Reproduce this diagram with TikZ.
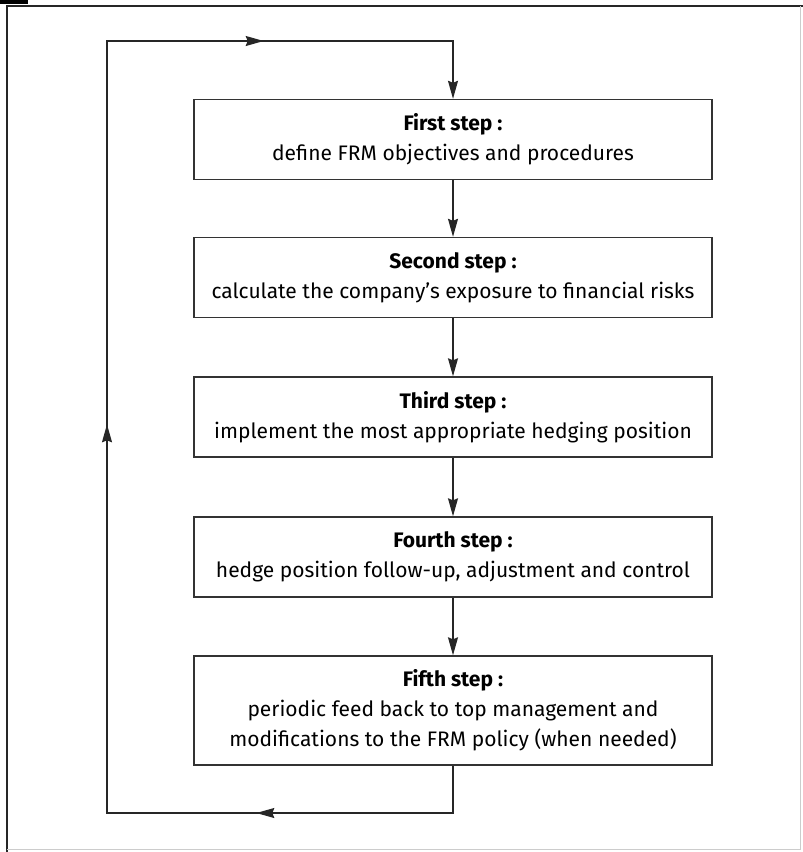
\documentclass[tikz,border=0pt]{standalone}
\usepackage{fontspec}
\setmainfont{Fira Sans}
\usepackage{tikz}
\usetikzlibrary{arrows.meta}
\usetikzlibrary{positioning,decorations.markings}

\begin{document}
\begin{tikzpicture}[x=0.5pt, y=-0.5pt]
  % Define styles for boxes and lines
  \tikzset{
    stepbox/.style={
      draw=black!80,
      rectangle,
      fill=white,
      minimum width=259pt,
      minimum height=40pt,
      inner sep=0pt,
      line width=0.7pt,
      align=center,
      font=\fontsize{10.5}{15}\selectfont
    },
    flow/.style={
      draw=black!85,
      line width=0.7pt,
      -{Stealth[length=9pt, width=5pt, inset=1pt]}
    }
  }

  % Page and frame
  \useasboundingbox (0,0) rectangle (803,852);
  \fill[black] (0,0) rectangle (28,4);
  \draw[black!85, line width=1.1pt] (803,6) -- (7,6) -- (7,852);
  \draw[black!20, line width=0.5pt] (800,6) -- (800,849) -- (7,849);

  % Create the five steps
  \node[stepbox] (first) at (453,139.5) {\textbf{First step :}\\define FRM objectives and procedures};
  \node[stepbox] (second) at (453,277.5) {\textbf{Second step :}\\calculate the company’s exposure to financial risks};
  \node[stepbox] (third) at (453,417) {\textbf{Third step :}\\implement the most appropriate hedging position};
  \node[stepbox] (fourth) at (453,557) {\textbf{Fourth step :}\\hedge position follow-up, adjustment and control};
  \node[stepbox, minimum height=54.5pt] (fifth) at (453,710.5) {\textbf{Fifth step :}\\periodic feed back to top management and\\modifications to the FRM policy (when needed)};

  % Draw arrows between steps
  \foreach \a/\b in {first/second, second/third, third/fourth, fourth/fifth} {
    \draw[flow] (\a) -- (\b);
  }

  % Feedback loop
  \coordinate (bl) at (107,813);
  \coordinate (tl) at (107,41);
  \draw[flow, postaction={decorate}, decoration={markings,
      mark=at position 122pt with {\arrow{Stealth[length=9pt, width=5pt, inset=1pt]}},
      mark=at position 391pt with {\arrow{Stealth[length=9pt, width=5pt, inset=1pt]}},
      mark=at position 661pt with {\arrow{Stealth[length=9pt, width=5pt, inset=1pt]}}}]
    (fifth.south) |- (bl) -- (tl) -| (first.north);
\end{tikzpicture}
\end{document}
